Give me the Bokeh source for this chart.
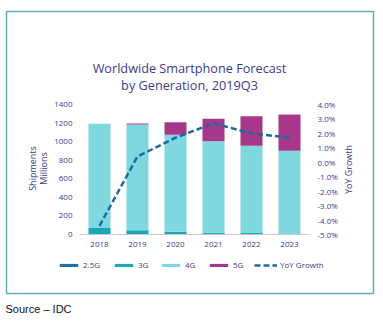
from bokeh.plotting import figure
from bokeh.models import (Range1d, LinearAxis, FixedTicker, PrintfTickFormatter,
                          Label, Legend, LegendItem, BoxAnnotation)
from bokeh.embed import file_html
from bokeh.resources import INLINE
import math

years = ["2018", "2019", "2020", "2021", "2022", "2023"]
g25 = [4, 3, 2, 2, 1, 1]
g3 = [72, 42, 28, 18, 14, 11]
g4 = [1117, 1140, 1043, 985, 940, 889]
g5 = [0, 10, 137, 241, 319, 391]
yoy = [-4.4, 0.4, 1.7, 2.7, 2.0, 1.7]
left_ticks = [0, 200, 400, 600, 800, 1000, 1200, 1400]
right_ticks = [-5, -4, -3, -2, -1, 0, 1, 2, 3, 4]
series_names = ["2.5G", "3G", "4G", "5G", "YoY Growth"]

TXT = "#3d3a8c"
FONT = "Open Sans"
C25, C3, C4, C5, CL = "#1f6fa6", "#1aa7bc", "#7fd8e0", "#a6378a", "#1d6a9c"

W, H = 383, 321
# plot area inside the canvas: x 80..308, y(0)=234, y(1400)=104
PL, PR, PT, PB = 80, 308, 104, 234
ux = (PR - PL) / len(years)
uy = (PB - PT) / 1400
uyy = (PB - PT) / 9

xpos = [i + 0.5 for i in range(len(years))]

p = figure(width=W, height=H,
           x_range=Range1d(-PL / ux, len(years) + (W - PR) / ux),
           y_range=Range1d(-(H - PB) / uy, 1400 + PT / uy),
           output_backend="svg", toolbar_location=None,
           min_border=0, min_border_left=0, min_border_right=0,
           min_border_top=0, min_border_bottom=0)
p.outline_line_color = None
p.grid.visible = False
p.background_fill_color = "white"
p.border_fill_color = "white"

src = dict(x=xpos, g25=g25, g3=g3, g4=g4, g5=g5)
rs = p.vbar_stack(["g25", "g3", "g4", "g5"], x="x", width=0.58, source=src,
                  color=[C25, C3, C4, C5], line_color=None)

p.extra_y_ranges = {"yoy": Range1d(-5 - (H - PB) / uyy, 4 + PT / uyy)}
ln = p.line(xpos, yoy, y_range_name="yoy", line_color=CL, line_width=2.5,
            line_dash="6 3")


def style_axis(ax, standoff):
    ax.axis_line_color = None
    ax.major_tick_line_color = None
    ax.minor_tick_line_color = None
    ax.major_tick_out = 0
    ax.major_tick_in = 0
    ax.minor_tick_out = 0
    ax.minor_tick_in = 0
    ax.major_label_standoff = standoff
    ax.major_label_text_font = FONT
    ax.major_label_text_font_size = "8px"
    ax.major_label_text_color = TXT


# x axis drawn at y = 0
xa = p.xaxis[0]
style_axis(xa, 7)
xa.fixed_location = 0
xa.bounds = (0, len(years))
xa.ticker = FixedTicker(ticks=xpos)
xa.major_label_overrides = {x: y for x, y in zip(xpos, years)}
xa.axis_line_color = "#c8c8c8"

ya = p.yaxis[0]
style_axis(ya, 8)
ya.fixed_location = 0
ya.ticker = FixedTicker(ticks=left_ticks)

ra = LinearAxis(y_range_name="yoy", ticker=FixedTicker(ticks=right_ticks),
                formatter=PrintfTickFormatter(format="%.1f%%"))
style_axis(ra, 9)
ra.fixed_location = len(years)
p.add_layout(ra, "right")


def lab(text, x, y, size, color=TXT, font=FONT, angle=0, align="center"):
    # x, y: pixels from the canvas top-left
    p.add_layout(Label(x=x, y=H - y, x_units="screen", y_units="screen", text=text,
                       text_font=font, text_font_size=size, text_color=color,
                       text_align=align, text_baseline="middle", angle=angle))


lab("Worldwide Smartphone Forecast", 189, 67, "12.7px")
lab("by Generation, 2019Q3", 189, 84, "12.7px")
lab("Shipments", 32, 168, "9px", angle=math.pi / 2)
lab("Millions", 43, 168, "9px", angle=math.pi / 2)
lab("YoY Growth", 348, 169, "9px", angle=math.pi / 2)
lab("Source \u2013 IDC", 5, 308, "11px", color="#111111",
    font="Liberation Sans", align="left")

p.add_layout(BoxAnnotation(left=6, right=373, bottom=H - 293, top=H - 11,
                           left_units="screen", right_units="screen",
                           bottom_units="screen", top_units="screen",
                           fill_color=None, fill_alpha=0, line_color="#62aabd",
                           line_width=1.5, line_alpha=1))

# one legend per entry so each entry sits where the reference has it
renderers = list(rs) + [ln]
leg_x = [57, 112, 159, 207, 254]
for name, r, lx in zip(series_names, renderers, leg_x):
    p.add_layout(Legend(items=[LegendItem(label=name, renderers=[r])],
                        orientation="horizontal", location=(lx, H - 270),
                        glyph_width=23, glyph_height=4, label_height=10,
                        label_standoff=3, spacing=0, padding=0, margin=0,
                        border_line_color=None, background_fill_alpha=0,
                        label_text_font=FONT, label_text_font_size="8px",
                        label_text_color=TXT), "center")

open("out.html", "w").write(file_html(p, INLINE))
